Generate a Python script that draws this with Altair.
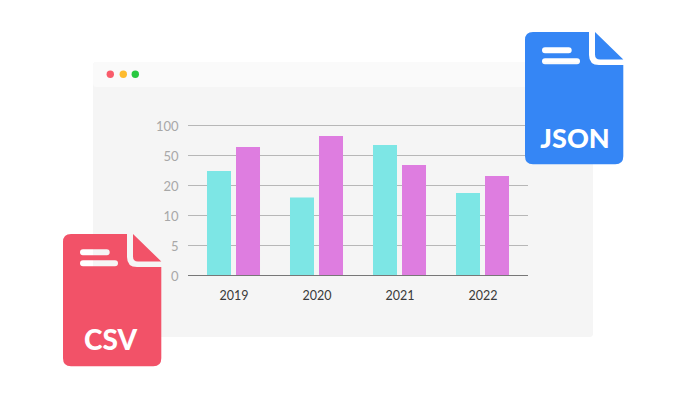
import altair as alt
import pandas as pd

years = ["2019", "2020", "2021", "2022"]
series_a = [34.5, 16, 67.5, 17.5]
series_b = [64, 82.5, 40.5, 29.5]
ticks = [0, 5, 10, 20, 50, 100]
series_names = ["a", "b"]
series_colors = ["#7de6e5", "#de7de0"]

W, H = 332, 150
PL, PT = 184, 117.5
to_x = lambda px: px - (PL + 8)
to_y = lambda py: py - (PT + 8)

bars_df = pd.DataFrame(
    [{"year": y, "series": "a", "value": v} for y, v in zip(years, series_a)]
    + [{"year": y, "series": "b", "value": v} for y, v in zip(years, series_b)]
)
ticks_df = pd.DataFrame({"tick": ticks})
y_scale = alt.Scale(type="linear", domain=ticks, range=[150, 120, 90, 60, 30, 0], nice=False, zero=False)
y_axis = alt.Axis(values=ticks, ticks=False, domain=False, grid=False, labelFont="Lato", labelFontSize=13,
                  labelColor="#a8a8a8", labelPadding=14, labelOffset=1, zindex=1, title=None)


def box(x0, x1, y0, y1, color, radius=0):
    kw = {"cornerRadius": radius} if radius else {}
    return alt.Chart().mark_rect(color=color, **kw).encode(
        x=alt.value(to_x(x0)), x2=alt.value(to_x(x1)),
        y=alt.value(to_y(y0)), y2=alt.value(to_y(y1)),
    )


def dot(cx, cy, color):
    return alt.Chart().mark_point(filled=True, size=55, opacity=1, color=color, strokeWidth=0, shape="circle").encode(
        x=alt.value(to_x(cx)), y=alt.value(to_y(cy))
    )


ICON_PATH = (
    "M8,0 L64,0 L64,23 Q64,33 74,33 L98.3,33 L98.3,124.3 Q98.3,132.3 90.3,132.3 "
    "L8,132.3 Q0,132.3 0,124.3 L0,8 Q0,0 8,0 Z "
    "M70,0 L98.3,27.5 L75,27.5 Q70,27.5 70,22.5 Z "
    "M20,15.3 Q17,15.3 17,18.3 Q17,21.3 20,21.3 L43.7,21.3 Q46.7,21.3 46.7,18.3 Q46.7,15.3 43.7,15.3 Z "
    "M20,26.3 Q17,26.3 17,29.3 Q17,32.3 20,32.3 L52,32.3 Q55,32.3 55,29.3 Q55,26.3 52,26.3 Z"
)


def icon(ox, oy, color):
    return alt.Chart().mark_point(filled=True, size=4, opacity=1, color=color, strokeWidth=0, shape=ICON_PATH).encode(
        x=alt.value(to_x(ox)), y=alt.value(to_y(oy))
    )


def label(txt, cx, base, size):
    return alt.Chart().mark_text(
        text=txt, font="Lato", fontSize=size, fontWeight=900, color="white", align="center", baseline="alphabetic"
    ).encode(x=alt.value(to_x(cx)), y=alt.value(to_y(base)))


window = box(93, 593, 62, 337, "#f5f5f5", 3)
titlebar = box(93, 593, 62, 87, "#fafafa", 3)
dots = [dot(110.3, 74.3, "#f95c6b"), dot(123.3, 74.3, "#febb2e"), dot(135.3, 74.3, "#28c840")]

grid = alt.Chart(ticks_df).mark_rule(color="#b7b7b7", strokeWidth=1).encode(
    y=alt.Y("tick:Q", scale=y_scale, axis=y_axis),
    x=alt.value(-4), x2=alt.value(W + 4),
)

bars = alt.Chart(bars_df).mark_bar(cornerRadius=0).encode(
    x=alt.X("year:N", sort=years, title=None,
            scale=alt.Scale(paddingInner=0, paddingOuter=0),
            axis=alt.Axis(ticks=False, domain=False, grid=False, labelAngle=0, labelFont="Lato", labelFontSize=12.5,
                          labelColor="#3a3a3a", labelPadding=14, labelOffset=0.5, zindex=1)),
    xOffset=alt.XOffset("series:N", sort=series_names,
                        scale=alt.Scale(paddingInner=5 / 29, paddingOuter=0.517)),
    y=alt.Y("value:Q", scale=y_scale, axis=y_axis),
    color=alt.Color("series:N", scale=alt.Scale(domain=series_names, range=series_colors), legend=None),
)

baseline = alt.Chart(pd.DataFrame({"tick": [ticks[0]]})).mark_rule(color="#777777", strokeWidth=1).encode(
    y=alt.Y("tick:Q", scale=y_scale, axis=y_axis),
    x=alt.value(-4), x2=alt.value(W + 4),
)

chart = alt.layer(
    window, titlebar, *dots, grid, bars, baseline,
    icon(525, 32, "#3586f5"), label("JSON", 575, 147.5, 27),
    icon(63, 234, "#f25268"), label("CSV", 110.5, 349.5, 28),
).properties(
    width=W, height=H,
    autosize=alt.AutoSizeParams(type="none"),
    padding={"left": PL, "top": PT, "right": 669 - PL - W, "bottom": 384 - PT - H},
    background="white",
).configure_view(stroke=None)

chart.save("out.html", embed_options={"renderer": "svg", "actions": False})
